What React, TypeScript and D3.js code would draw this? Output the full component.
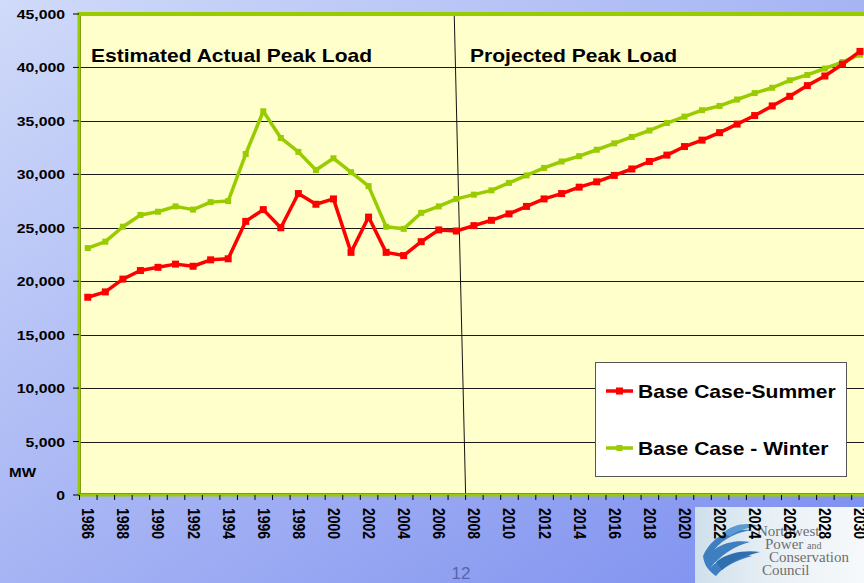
import React from "react";
import * as d3 from "d3";

const years: number[] = d3.range(1986, 2031);
const summer: number[] = [
  18500, 19000, 20200, 21000, 21300, 21600, 21400, 22000, 22100, 25600,
  26700, 25000, 28200, 27200, 27700, 22700, 26000, 22700, 22400, 23700,
  24800, 24700, 25200, 25700, 26300, 27000, 27700, 28200, 28800, 29300,
  29900, 30500, 31200, 31800, 32600, 33200, 33900, 34700, 35500, 36400,
  37300, 38300, 39200, 40300, 41500,
];
const winter: number[] = [
  23100, 23700, 25100, 26200, 26500, 27000, 26700, 27400, 27500, 31900,
  35900, 33400, 32100, 30400, 31500, 30200, 28900, 25100, 24900, 26400,
  27000, 27700, 28100, 28500, 29200, 29900, 30600, 31200, 31700, 32300,
  32900, 33500, 34100, 34800, 35400, 36000, 36400, 37000, 37600, 38100,
  38800, 39300, 39900, 40500, 41200,
];
const yTicks: number[] = d3.range(0, 45001, 5000);
const xLabels: number[] = years.filter((y) => y % 2 === 0);
const seriesNames: string[] = ["Base Case-Summer", "Base Case - Winter"];
const regionLabels: string[] = ["Estimated Actual Peak Load", "Projected Peak Load"];
// divider between actual and projected (year position, MW)
const dividerYears: number[] = [2006.88, 2007.53];
const dividerValues: number[] = [45000, 0];

const W = 864;
const H = 583;
const PL = 79;
const BAND = 17.55;
const PT = 14;
const PB = 495;
const SX = 1.17;
const FONT = "Arial, 'Liberation Sans', sans-serif";

export default function App() {
  const x = d3
    .scaleBand<number>()
    .domain(years)
    .range([PL, PL + BAND * years.length])
    .paddingInner(0)
    .paddingOuter(0);
  const xc = (yr: number) => (x(yr) as number) + x.bandwidth() / 2;
  const xLin = d3
    .scaleLinear()
    .domain([years[0], years[years.length - 1]])
    .range([xc(years[0]), xc(years[years.length - 1])]);
  const y = d3.scaleLinear().domain([0, 45000]).range([PB, PT]);
  const line = d3
    .line<number>()
    .x((_, i) => xc(years[i]))
    .y((d) => y(d));

  const series = [
    { name: seriesNames[0], values: summer, color: "#ff0000", ms: 7 },
    { name: seriesNames[1], values: winter, color: "#99cc00", ms: 6 },
  ];
  const plotRight = W + 10;

  return (
    <svg
      width={W}
      height={H}
      style={{ position: "absolute", left: 0, top: 0 }}
      xmlns="http://www.w3.org/2000/svg"
    >
      <defs>
        <linearGradient id="bg" x1="0" y1="0" x2="1" y2="1">
          <stop offset="0" stopColor="#d0daf9" />
          <stop offset="0.5" stopColor="#a6b4f4" />
          <stop offset="1" stopColor="#7a8def" />
        </linearGradient>
        <linearGradient id="logo" x1="0" y1="0" x2="1" y2="0">
          <stop offset="0" stopColor="#cfe0ec" />
          <stop offset="0.5" stopColor="#eaf1f6" />
          <stop offset="1" stopColor="#f6f9fb" />
        </linearGradient>
      </defs>
      <rect x={0} y={0} width={W} height={H} fill="url(#bg)" />

      {/* plot area */}
      <rect x={PL} y={PT} width={plotRight - PL} height={PB - PT} fill="#ffffcc" />
      {yTicks
        .filter((t) => t > 0 && t < 45000)
        .map((t) => (
          <line
            key={t}
            x1={PL}
            x2={plotRight}
            y1={Math.round(y(t)) + 0.5}
            y2={Math.round(y(t)) + 0.5}
            stroke="#1a1a1a"
            strokeWidth={1}
          />
        ))}

      {/* region titles */}
      {regionLabels.map((t, i) => (
        <text
          key={t}
          transform={`translate(${i === 0 ? 91 : 470},62) scale(${SX},1)`}
          fontFamily={FONT}
          fontWeight="bold"
          fontSize={18}
          fill="#000"
        >
          {t}
        </text>
      ))}

      {/* divider */}
      <line
        x1={xLin(dividerYears[0])}
        y1={y(dividerValues[0])}
        x2={xLin(dividerYears[1])}
        y2={y(dividerValues[1])}
        stroke="#111"
        strokeWidth={1}
      />

      {/* series */}
      {series
        .slice()
        .reverse()
        .map((s) => (
          <g key={s.name}>
            <path
              d={line(s.values) || ""}
              fill="none"
              stroke={s.color}
              strokeWidth={3.5}
              strokeLinejoin="round"
            />
            {s.values.map((v, i) => (
              <rect
                key={i}
                x={xc(years[i]) - s.ms / 2}
                y={y(v) - s.ms / 2}
                width={s.ms}
                height={s.ms}
                fill={s.color}
              />
            ))}
          </g>
        ))}

      {/* plot border */}
      <line x1={PL - 1.5} x2={plotRight} y1={PT} y2={PT} stroke="#99cc00" strokeWidth={4} />
      <line x1={PL - 1} x2={plotRight} y1={PB} y2={PB} stroke="#99cc00" strokeWidth={3} />
      <line x1={PL} x2={PL} y1={PT} y2={PB + 1.5} stroke="#99cc00" strokeWidth={3} />
      <line x1={PL + 1.5} x2={PL + 1.5} y1={PT + 2} y2={PB - 1.5} stroke="#6b8a00" strokeWidth={0.8} />
      <line x1={PL} x2={plotRight} y1={PB - 1.5} y2={PB - 1.5} stroke="#6b8a00" strokeWidth={0.8} />

      {/* y axis */}
      {yTicks.map((t) => (
        <g key={t}>
          <line x1={PL - 6} x2={PL} y1={y(t)} y2={y(t)} stroke="#000" strokeWidth={1} />
          <text
            transform={`translate(65,${y(t) + 5}) scale(${SX},1)`}
            textAnchor="end"
            fontFamily={FONT}
            fontWeight="bold"
            fontSize={13.5}
            fill="#000"
          >
            {d3.format(",")(t)}
          </text>
        </g>
      ))}
      <text
        transform={`translate(9,477) scale(${SX},1)`}
        fontFamily={FONT}
        fontWeight="bold"
        fontSize={13}
        fill="#000"
      >
        MW
      </text>

      {/* legend */}
      <rect x={595.5} y={362.5} width={251} height={114} fill="#ffffff" stroke="#555" strokeWidth={1} />
      {series.map((s, i) => {
        const ly = i === 0 ? 391 : 448;
        return (
          <g key={s.name}>
            <line x1={606} x2={633} y1={ly} y2={ly} stroke={s.color} strokeWidth={3.5} />
            <rect x={619.5 - s.ms / 2} y={ly - s.ms / 2} width={s.ms} height={s.ms} fill={s.color} />
            <text
              transform={`translate(638,${ly + 7}) scale(${SX},1)`}
              fontFamily={FONT}
              fontWeight="bold"
              fontSize={18}
              fill="#000"
            >
              {s.name}
            </text>
          </g>
        );
      })}

      {/* logo */}
      <g>
        <rect x={695} y={507} width={W - 695} height={H - 507} fill="url(#logo)" />
        <path
          d="M703,556 C712,536 730,528 752,530 C738,532 724,538 714,550 C724,542 738,540 750,542 C734,546 720,556 710,568 C722,556 738,552 752,556 C736,560 722,568 716,576 C710,572 704,566 703,556 Z"
          fill="#3d7fbf"
        />
        <path
          d="M722,534 C732,524 748,522 758,526 C748,528 738,530 730,536 Z"
          fill="#5b9ad0"
        />
        <path
          d="M716,562 C728,552 746,550 760,552 C746,556 732,560 722,570 Z"
          fill="#2f6fae"
        />
        <g fontFamily="'Liberation Serif', 'Times New Roman', serif" fill="#6e6e6e" fontSize={15}>
          <text x={757} y={536}>Northwest</text>
          <text x={765} y={549}>
            Power <tspan fontSize={10}>and</tspan>
          </text>
          <text x={769} y={562}>Conservation</text>
          <text x={762} y={575}>Council</text>
        </g>
      </g>

      {/* x axis ticks & labels */}
      {years.map((yr) => (
        <line
          key={yr}
          x1={(x(yr) as number) + 0.5}
          x2={(x(yr) as number) + 0.5}
          y1={PB}
          y2={PB + 5}
          stroke="#000"
          strokeWidth={1}
        />
      ))}
      {xLabels.map((yr) => (
        <text
          key={yr}
          transform={`translate(${xc(yr) - 5.5},508) scale(${SX},1) rotate(90)`}
          fontFamily={FONT}
          fontWeight="bold"
          fontSize={14}
          fill="#000"
        >
          {yr}
        </text>
      ))}

      {/* page number */}
      <text x={461} y={579} textAnchor="middle" fontFamily={FONT} fontSize={17} fill="#5a64a6">
        12
      </text>
    </svg>
  );
}
